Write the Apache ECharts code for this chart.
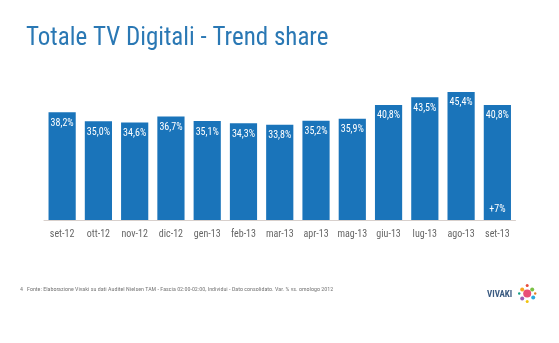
<!DOCTYPE html>
<html><head><meta charset="utf-8">
<script src="https://cdn.jsdelivr.net/npm/echarts@6/dist/echarts.min.js"></script>
<style>html,body{margin:0;padding:0;background:#fff}#c{width:559px;height:343px}</style>
</head><body><div id="c"></div>
<script>
const categories = ['set-12','ott-12','nov-12','dic-12','gen-13','feb-13','mar-13','apr-13','mag-13','giu-13','lug-13','ago-13','set-13'];
const shareValues = [38.2,35.0,34.6,36.7,35.1,34.3,33.8,35.2,35.9,40.8,43.5,45.4,40.8];
const variationLabels = ['','','','','','','','','','','','','+7%'];
const titleText = 'Totale TV Digitali - Trend share';
const footnoteText = '4   Fonte: Elaborazione Vivaki su dati Auditel Nielsen TAM - Fascia 02:00-02:00, Individui - Dato consolidato. Var. % vs. omologo 2012';

const fmt = v => v.toFixed(1).replace('.', ',') + '%';
const chart = echarts.init(document.getElementById('c'));
const FONT = '"Roboto Condensed", "Roboto", sans-serif';
chart.setOption({
  animation: false,
  backgroundColor: '#fff',
  title: {
    text: titleText, left: 21, top: 21,
    textStyle: { fontFamily: FONT, fontWeight: 'normal', fontSize: 25, color: '#2a78b4' }
  },
  grid: { left: 44, right: 43.5, top: 79, bottom: 123 },
  xAxis: {
    type: 'category', data: categories,
    axisLine: { lineStyle: { color: '#d8d0cc' } },
    axisTick: { show: false },
    axisLabel: { color: '#666', fontFamily: FONT, fontSize: 10, margin: 9, interval: 0 }
  },
  yAxis: { type: 'value', min: 0, max: 50, show: false, splitLine: { show: false } },
  series: [
    {
      type: 'bar', data: shareValues, barWidth: '75%',
      itemStyle: { color: '#1a74ba' },
      label: { show: true, position: 'insideTop', distance: 6, color: '#fff',
        fontFamily: FONT, fontSize: 10, formatter: p => fmt(p.value) }
    },
    {
      type: 'bar', barGap: '-100%', barWidth: '75%',
      data: shareValues.map((v, i) => ({ value: variationLabels[i] ? v : null, name: variationLabels[i] })),
      itemStyle: { color: 'rgba(0,0,0,0)' },
      label: { show: true, position: 'insideBottom', distance: 6, color: '#fff',
        fontFamily: FONT, fontSize: 10, formatter: p => variationLabels[p.dataIndex] },
      silent: true
    }
  ],
  graphic: [
    { type: 'text', left: 20, top: 286,
      style: { text: footnoteText, fill: '#777', font: '6px ' + FONT } },
    { type: 'text', left: 487, top: 290,
      style: { text: 'VIVAKI', fill: '#3a5a80', font: 'bold 9px ' + FONT } },
    { type: 'group', left: 518, top: 284, children: [
      { type: 'circle', shape: { cx: 9, cy: 10, r: 4 }, style: { fill: '#e94e77' } },
      { type: 'circle', shape: { cx: 4, cy: 6, r: 2 }, style: { fill: '#f6a623' } },
      { type: 'circle', shape: { cx: 14, cy: 6, r: 2 }, style: { fill: '#7ac143' } },
      { type: 'circle', shape: { cx: 15, cy: 14, r: 2 }, style: { fill: '#2aa7df' } },
      { type: 'circle', shape: { cx: 4, cy: 15, r: 2 }, style: { fill: '#9b59b6' } },
      { type: 'circle', shape: { cx: 9, cy: 2, r: 1.5 }, style: { fill: '#e74c3c' } },
      { type: 'circle', shape: { cx: 9, cy: 18, r: 1.5 }, style: { fill: '#f1c40f' } },
      { type: 'circle', shape: { cx: 1, cy: 10, r: 1.2 }, style: { fill: '#16a085' } },
      { type: 'circle', shape: { cx: 17, cy: 10, r: 1.2 }, style: { fill: '#e67e22' } }
    ]}
  ]
});
</script></body></html>
